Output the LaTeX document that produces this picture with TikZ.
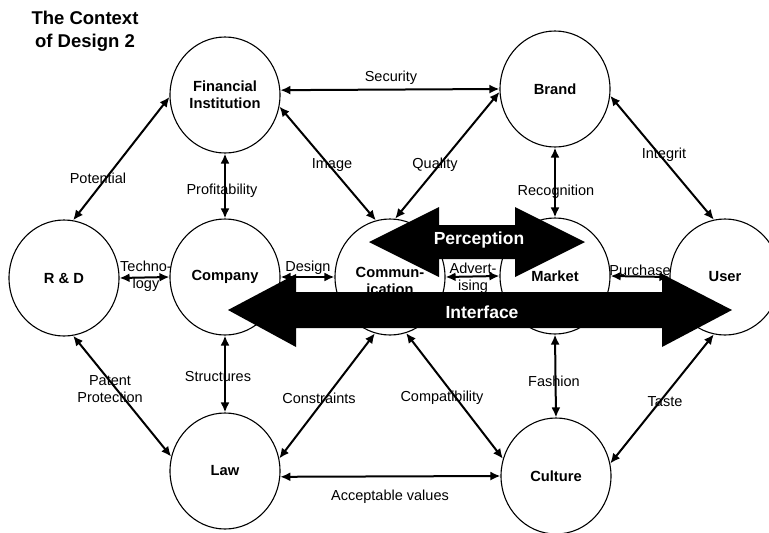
\documentclass[tikz,border=0pt]{standalone}
\usepackage{fontspec}
\setmainfont{Liberation Sans}
\usetikzlibrary{arrows.meta,shapes.geometric}
\begin{document}
\begin{tikzpicture}[x=1pt,y=-1pt,
  place/.style={ellipse, draw, line width=1.1pt, fill=white, minimum width=110pt,
    minimum height=116pt, inner sep=0pt, align=center,
    font=\fontsize{14.7}{17}\selectfont\bfseries},
  link/.style={line width=2pt, {Latex[length=10pt,width=9pt]}-{Latex[length=10pt,width=9pt]}},
  tag/.style={font=\fontsize{14.5}{17}\selectfont, align=center, inner sep=0pt},
  bigtag/.style={text=white, font=\fontsize{17.5}{20}\selectfont\bfseries, inner sep=0pt},
  heading/.style={font=\fontsize{18.5}{23}\selectfont\bfseries, align=center, inner sep=0pt}
]
\clip (0,0) rectangle (769,533);
\fill[white] (0,0) rectangle (769,533);

% title
\node[heading] (title) at (85,31) {The Context\\of Design 2};

% the nine domains
\node[place] (rd)  at (64,278)  {R \& D};
\node[place] (fi)  at (225,95)  {Financial\\Institution};
\node[place] (co)  at (225,277) {Company};
\node[place] (cm)  at (390,277) {};
\node[tag, font=\fontsize{14.7}{17.5}\selectfont\bfseries] (cmtext) at (390,281) {Commun-\\ication};
\node[place] (br)  at (555,89)  {Brand};
\node[place] (mk)  at (555,276) {Market};
\node[place] (us)  at (725,277) {User};
\node[place] (law) at (225,471) {Law};
\node[place] (cu)  at (556,476) {Culture};

% relations
\draw[link] (fi.5)     -- (br.180);
\draw[link] (fi.-12)   -- (cm.104.5);
\draw[link] (br.183)   -- (cm.85);
\draw[link] (fi.south) -- (co.north);
\draw[link] (fi.182)   -- (rd.81.5);
\draw[link] (rd.east)  -- (co.west);
\draw[link] (co.east)  -- (cm.west);
\draw[link] (cm.east)  -- (mk.west);
\draw[link] (mk.east)  -- (us.west);
\draw[link] (br.south) -- (mk.north);
\draw[link] (br.-7)    -- (us.101.5);
\draw[link] (co.south) -- (law.north);
\draw[link] (rd.-81.5) -- (law.165.7);
\draw[link] (cm.-105.8) -- (law.13.3);
\draw[link] (cm.-74.2) -- (cu.162);
\draw[link] (law.-6)   -- (cu.180);
\draw[link] (mk.south) -- (cu.north);
\draw[link] (us.-101.7) -- (cu.13.3);

% relation names
\node[tag] (lsec)  at (391,78)  {Security};
\node[tag] (limg)  at (332,165) {Image};
\node[tag] (lqua)  at (435,165) {Quality};
\node[tag] (lpro)  at (222,191) {Profitability};
\node[tag] (lpot)  at (98,178)  {Potential};
\node[tag] (ltec)  at (146,276) {Techno-\\logy};
\node[tag] (ldes)  at (308,268) {Design};
\node[tag] (ladv)  at (473,278) {Advert-\\ising};
\node[tag] (lpur)  at (640,270) {Purchase};
\node[tag] (lrec)  at (556,192) {Recognition};
\node[tag] (lint)  at (664,155) {Integrit};
\node[tag] (lstr)  at (218,377) {Structures};
\node[tag] (lpat)  at (110,389) {Patent\\Protection};
\node[tag] (lcon)  at (319,398) {Constraints};
\node[tag] (lcom)  at (442,398) {Compatibility};
\node[tag] (lacc)  at (390,497) {Acceptable values};
\node[tag] (lfas)  at (554,381) {Fashion};
\node[tag] (ltas)  at (665,402) {Taste};

% broad double arrows
\fill[black] (369,242) -- (439,207) -- (439,225) -- (515,225) -- (515,207) -- (585,242)
  -- (515,277) -- (515,259) -- (439,259) -- (439,277) -- cycle;
\node[bigtag] (lper) at (479,240) {Perception};

\fill[black] (228,310) -- (296,274) -- (296,292) -- (662,292) -- (662,274) -- (732,310)
  -- (662,347) -- (662,328) -- (296,328) -- (296,347) -- cycle;
\node[bigtag] (lifc) at (482,312) {Interface};
\end{tikzpicture}
\end{document}
